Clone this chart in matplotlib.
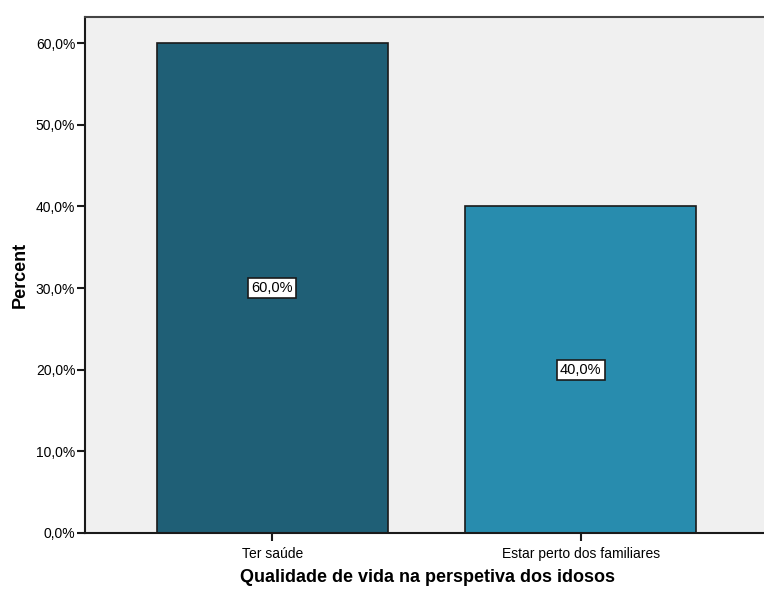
import matplotlib
matplotlib.use('Agg')
import matplotlib.pyplot as plt
from matplotlib.ticker import FuncFormatter

# ---- data ----
categories = ['Ter saúde', 'Estar perto dos familiares']
percents = [60.0, 40.0]
bar_colors = ['#1f5f76', '#288cae']
yticks = [0, 10, 20, 30, 40, 50, 60]

plt.rcParams['font.family'] = ['Liberation Sans', 'DejaVu Sans']

fig = plt.figure(figsize=(7.64, 5.90), dpi=100)
ax_w = 1 - 85 / 764 + 0.01
ax_h = (533 - 17) / 590
ax = fig.add_axes([85 / 764, 1 - 533 / 590, ax_w, ax_h])
ax.set_facecolor('#f0f0f0')

x = list(range(len(categories)))
ax.bar(x, percents, width=0.75, color=bar_colors, edgecolor='#1a1a1a', linewidth=1.2, zorder=2)

for xi, v in zip(x, percents):
    ax.text(xi, v / 2, ('%.1f%%' % v).replace('.', ','), ha='center', va='center',
            fontsize=10.5, zorder=3,
            bbox=dict(boxstyle='square,pad=0.22', facecolor='white', edgecolor='#1a1a1a', linewidth=1.2))

ax.set_xlim(-0.608, 1.62)
ax.set_ylim(0, 63.2)
ax.set_yticks(yticks)
ax.yaxis.set_major_formatter(FuncFormatter(lambda v, p: ('%.1f%%' % v).replace('.', ',')))
ax.set_xticks(x)
ax.set_xticklabels(categories)
ax.tick_params(axis='both', direction='out', length=6, width=1.5, labelsize=10, color='#1a1a1a')
ax.tick_params(axis='y', pad=1)
ax.tick_params(axis='x', pad=4)

for side in ['left', 'bottom']:
    ax.spines[side].set_linewidth(1.5)
    ax.spines[side].set_color('#1a1a1a')
ax.spines['top'].set_linewidth(1.5)
ax.spines['top'].set_color('#444444')
ax.spines['right'].set_visible(False)

ax.set_ylabel('Percent', fontsize=13, fontweight='bold', va='center')
ax.set_xlabel('Qualidade de vida na perspetiva dos idosos', fontsize=13, fontweight='bold', va='center')
ax.yaxis.set_label_coords(-65 / (ax_w * 764), 0.5)
# x label sits centred at about pixel (428, 578) in the reference
ax.xaxis.set_label_coords((428 - 85) / (ax_w * 764), -45 / (ax_h * 590))

fig.savefig('out.png', dpi=100)
